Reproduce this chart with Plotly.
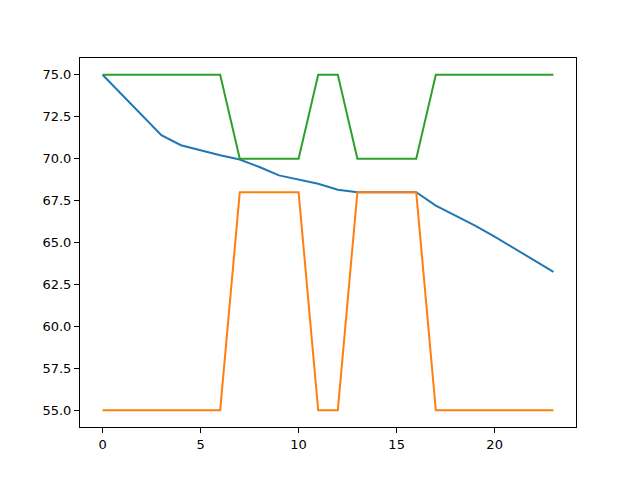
import plotly.graph_objects as go

x = list(range(24))
blue = [75.0, 73.8, 72.6, 71.4, 70.8, 70.5, 70.2, 69.95, 69.5, 69.0, 68.73, 68.5, 68.15, 68.0,
        68.0, 68.0, 68.0, 67.2, 66.6, 66.0, 65.35, 64.65, 63.95, 63.25]
orange = [55, 55, 55, 55, 55, 55, 55, 68, 68, 68, 68, 55, 55, 68, 68, 68, 68, 55, 55, 55, 55, 55, 55, 55]
green = [75, 75, 75, 75, 75, 75, 75, 70, 70, 70, 70, 75, 75, 70, 70, 70, 70, 75, 75, 75, 75, 75, 75, 75]

fig = go.Figure()
for y, c in [(blue, "#1f77b4"), (orange, "#ff7f0e"), (green, "#2ca02c")]:
    fig.add_trace(go.Scatter(x=x, y=y, mode="lines", line=dict(color=c, width=2)))

axis_common = dict(showgrid=False, zeroline=False, showline=True, linecolor="black", linewidth=1,
                   mirror=True, ticks="outside", ticklen=5, tickwidth=1, tickcolor="black",
                   tickfont=dict(family="DejaVu Sans", size=13, color="black"))
fig.update_xaxes(range=[-1.15, 24.15], tickvals=[0, 5, 10, 15, 20], **axis_common)
fig.update_yaxes(range=[54, 76], tickvals=[55, 57.5, 60, 62.5, 65, 67.5, 70, 72.5, 75],
                 tickformat=".1f", **axis_common)
fig.update_layout(width=640, height=480, margin=dict(l=72, r=72, t=50, b=61),
                  plot_bgcolor="white", paper_bgcolor="white", showlegend=False)
fig.write_html("out.html")
